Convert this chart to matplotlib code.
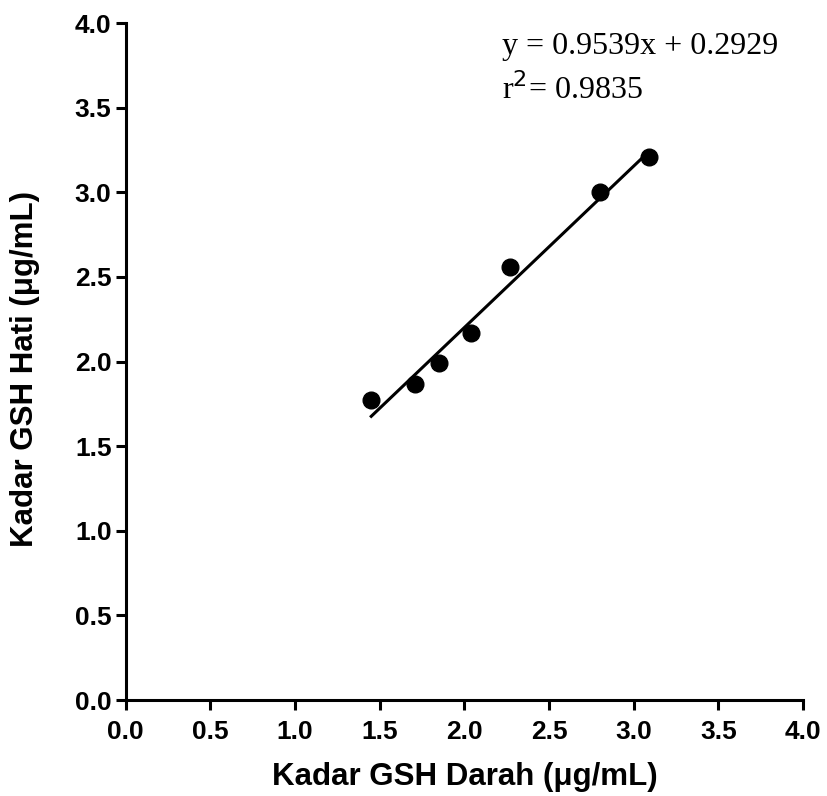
import numpy as np
import matplotlib
matplotlib.use("Agg")
import matplotlib.pyplot as plt

# data
darah = [1.45, 1.71, 1.85, 2.04, 2.27, 2.80, 3.09]
hati = [1.77, 1.87, 1.99, 2.17, 2.56, 3.00, 3.21]
slope = 0.9539
intercept = 0.2929
r2 = 0.9835
ticks = [0.0, 0.5, 1.0, 1.5, 2.0, 2.5, 3.0, 3.5, 4.0]

plt.rcParams['font.family'] = ['Liberation Sans', 'DejaVu Sans']

W, H = 827, 796
fig = plt.figure(figsize=(W / 100, H / 100), dpi=100)
ax = fig.add_axes([0.152, 0.1206, 0.819, 0.8505])

ax.plot(darah, hati, 'o', color='black', markersize=12, zorder=3)

# regression line over the data range
xl = np.array([min(darah), max(darah)])
ax.plot(xl, slope * xl + intercept, color='black', lw=2.2)

ax.set_xlim(0, 4)
ax.set_ylim(0, 4)
ax.set_xticks(ticks)
ax.set_yticks(ticks)
ax.set_xticklabels([f"{t:.1f}" for t in ticks], fontsize=19, fontweight='bold')
ax.set_yticklabels([f"{t:.1f}" for t in ticks], fontsize=19, fontweight='bold')
ax.tick_params(width=2.2, length=7.2)
ax.tick_params(axis='x', pad=7)
ax.tick_params(axis='y', pad=3)

for s in ['top', 'right']:
    ax.spines[s].set_visible(False)
for s in ['left', 'bottom']:
    ax.spines[s].set_linewidth(2.2)

ax.set_xlabel("Kadar GSH Darah (μg/mL)", fontsize=22.5, fontweight='bold')
ax.set_ylabel("Kadar GSH Hati (μg/mL)", fontsize=22.5, fontweight='bold')
ax.xaxis.set_label_coords(465 / W, 1 - 777 / H, transform=fig.transFigure)
ax.yaxis.set_label_coords(25 / W, 1 - 369 / H, transform=fig.transFigure)
ax.xaxis.label.set_va('center')
ax.yaxis.label.set_va('center')

fig.text(502 / W, 1 - 54 / H, f"y = {slope}x + {intercept}", fontsize=23,
         family='Liberation Serif', va='baseline')
fig.text(502 / W, 1 - 99 / H, f"r$^2$= {r2}", fontsize=23,
         family='Liberation Serif', va='baseline')

fig.savefig("out.png", dpi=100)
